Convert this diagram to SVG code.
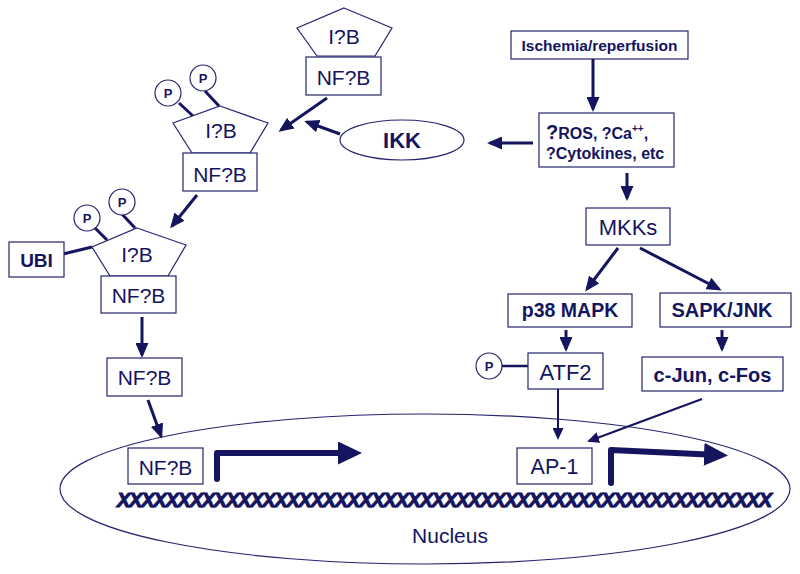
<svg xmlns="http://www.w3.org/2000/svg" width="800" height="574" viewBox="0 0 800 574">
<defs>
<style>
.bx{fill:#fff;stroke:#24246f;stroke-width:1.2}
.t{font-family:"Liberation Sans",Arial,sans-serif;fill:#14145f;text-anchor:middle}
.r{font-size:21px}
.b{font-weight:bold}
.c{stroke:#14145f;stroke-width:3;fill:none}
.th{stroke:#14145f;stroke-width:2;fill:none}
.big{stroke:#14145f;stroke-width:6;fill:none;stroke-linecap:round;stroke-linejoin:round}
.ln{stroke:#14145f;stroke-width:3;fill:none}
.pc{fill:#fff;stroke:#24246f;stroke-width:1.2}
</style>
<marker id="ah" viewBox="0 0 15 13" refX="12" refY="6.5" markerWidth="15" markerHeight="13" markerUnits="userSpaceOnUse" orient="auto"><path d="M0,0 L15,6.5 L0,13 z" fill="#14145f"/></marker>
<marker id="as" viewBox="0 0 12 11" refX="10" refY="5.5" markerWidth="12" markerHeight="11" markerUnits="userSpaceOnUse" orient="auto"><path d="M0,0 L12,5.5 L0,11 z" fill="#14145f"/></marker>
<marker id="ab" viewBox="0 0 24 23" refX="14" refY="11.5" markerWidth="24" markerHeight="23" markerUnits="userSpaceOnUse" orient="auto"><path d="M0,0 L24,11.5 L0,23 z" fill="#14145f"/></marker>
</defs>
<rect width="800" height="574" fill="#fff"/>

<g id="nucleus">
<ellipse cx="425" cy="489" rx="365" ry="75" fill="none" stroke="#24246f" stroke-width="1.2"/>
<text class="t" x="450" y="543" font-size="21">Nucleus</text>
<text class="t b" x="117" y="507" font-size="20" font-style="italic" stroke="#14145f" stroke-width="1.1" style="text-anchor:start" textLength="655" lengthAdjust="spacing">XXXXXXXXXXXXXXXXXXXXXXXXXXXXXXXXXXXXXXXXXXXXXXXXXXXXXX</text>
</g>

<g id="ikb-top">
<polygon class="bx" points="344,8 392,28 375,56 317,56 297,28"/>
<text class="t r" x="344" y="44">I?B</text>
</g>
<g id="nfkb-top">
<rect class="bx" x="306" y="57" width="75" height="38"/>
<text class="t r" x="343.5" y="85">NF?B</text>
</g>

<g id="ikb-p">
<line class="ln" x1="179" y1="103" x2="193" y2="116"/>
<line class="ln" x1="205" y1="91" x2="219" y2="106"/>
<polygon class="bx" points="220,106 268,123 250,153 192,153 173,123"/>
<text class="t r" x="221" y="138">I?B</text>
<circle class="pc" cx="168" cy="93" r="13"/>
<text class="t b" x="168" y="98" font-size="13">P</text>
<circle class="pc" cx="203" cy="78" r="13"/>
<text class="t b" x="203" y="83" font-size="13">P</text>
</g>
<g id="nfkb-2">
<rect class="bx" x="183" y="153" width="74" height="38"/>
<text class="t r" x="220" y="182">NF?B</text>
</g>

<g id="ikk">
<ellipse cx="402" cy="140" rx="62" ry="20" fill="#fff" stroke="#24246f" stroke-width="1.2"/>
<text class="t b" x="402" y="148" font-size="22">IKK</text>
</g>

<g id="ikb-ubi">
<line class="ln" x1="94" y1="227" x2="107" y2="240"/>
<line class="ln" x1="121" y1="213" x2="135" y2="228"/>
<line class="ln" x1="63" y1="254" x2="92" y2="247"/>
<polygon class="bx" points="137,228 186,245 168,276 110,276 92,247"/>
<text class="t r" x="137" y="262">I?B</text>
<circle class="pc" cx="87" cy="218" r="13"/>
<text class="t b" x="87" y="223" font-size="13">P</text>
<circle class="pc" cx="122" cy="202" r="13"/>
<text class="t b" x="122" y="207" font-size="13">P</text>
</g>
<g id="ubi">
<rect class="bx" x="9" y="242" width="55" height="35"/>
<text class="t b" x="36.5" y="267" font-size="19">UBI</text>
</g>
<g id="nfkb-3">
<rect class="bx" x="101" y="276" width="75" height="37"/>
<text class="t r" x="138.5" y="303">NF?B</text>
</g>
<g id="nfkb-4">
<rect class="bx" x="107" y="358" width="75" height="38"/>
<text class="t r" x="144.5" y="385">NF?B</text>
</g>
<g id="nfkb-nuc">
<rect class="bx" x="128" y="448" width="75" height="36"/>
<text class="t r" x="165.5" y="475">NF?B</text>
</g>

<g id="ischemia">
<rect class="bx" x="511" y="31" width="177" height="28"/>
<text class="t b" x="599.5" y="51" font-size="15.5">Ischemia/reperfusion</text>
</g>
<g id="ros">
<rect class="bx" x="539" y="113" width="135" height="54"/>
<text class="t b" x="546" y="139" font-size="16" style="text-anchor:start"><tspan font-size="20">?</tspan>ROS, ?Ca<tspan font-size="10" dy="-7">++</tspan><tspan dy="7">,</tspan></text>
<text class="t b" x="546" y="159" font-size="16" style="text-anchor:start">?Cytokines, etc</text>
</g>
<g id="mkks">
<rect class="bx" x="586" y="208" width="84" height="37"/>
<text class="t" x="628" y="235" font-size="22">MKKs</text>
</g>
<g id="p38">
<rect class="bx" x="508" y="294" width="124" height="33"/>
<text class="t b" x="570" y="317" font-size="19.5">p38 MAPK</text>
</g>
<g id="sapk">
<rect class="bx" x="660" y="293" width="131" height="34"/>
<text class="t b" x="722" y="317" font-size="20">SAPK/JNK</text>
</g>
<g id="atf2">
<line class="ln" x1="502" y1="366" x2="528" y2="366" style="stroke-width:2.5"/>
<circle class="pc" cx="489" cy="366" r="13"/>
<text class="t b" x="489" y="371" font-size="13">P</text>
<rect class="bx" x="528" y="353" width="75" height="36"/>
<text class="t" x="565.5" y="380" font-size="22">ATF2</text>
</g>
<g id="cjun">
<rect class="bx" x="642" y="357" width="141" height="34"/>
<text class="t b" x="712.5" y="382" font-size="20">c-Jun, c-Fos</text>
</g>
<g id="ap1">
<rect class="bx" x="517" y="448" width="75" height="36"/>
<text class="t" x="554.5" y="474" font-size="21.5">AP-1</text>
</g>

<g id="connectors">
<line class="c" x1="593" y1="59" x2="593" y2="109" marker-end="url(#ah)"/>
<line class="c" x1="533" y1="143" x2="490" y2="143" marker-end="url(#ah)"/>
<line class="c" x1="627" y1="173" x2="627" y2="198" marker-end="url(#ah)"/>
<line class="c" x1="618" y1="248" x2="587" y2="289" marker-end="url(#ah)"/>
<line class="c" x1="640" y1="248" x2="719" y2="289" marker-end="url(#ah)"/>
<line class="c" x1="566" y1="330" x2="566" y2="349" marker-end="url(#ah)"/>
<line class="c" x1="722" y1="330" x2="722" y2="349" marker-end="url(#ah)"/>
<line class="c" x1="327" y1="98" x2="281" y2="130" marker-end="url(#ah)"/>
<line class="c" x1="340" y1="134" x2="307" y2="122" marker-end="url(#ah)"/>
<line class="c" x1="197" y1="195" x2="172" y2="226" marker-end="url(#ah)"/>
<line class="c" x1="142" y1="317" x2="142" y2="355" marker-end="url(#ah)"/>
<line class="c" x1="148" y1="400" x2="161" y2="436" marker-end="url(#ah)"/>
<line class="th" x1="558" y1="389" x2="558" y2="438" marker-end="url(#as)"/>
<line class="th" x1="702" y1="399" x2="589" y2="441" marker-end="url(#as)"/>
<path class="big" d="M217,479 V453 H352" marker-end="url(#ab)"/>
<path class="big" d="M611,483 V450 L718,455" marker-end="url(#ab)"/>
</g>
</svg>
